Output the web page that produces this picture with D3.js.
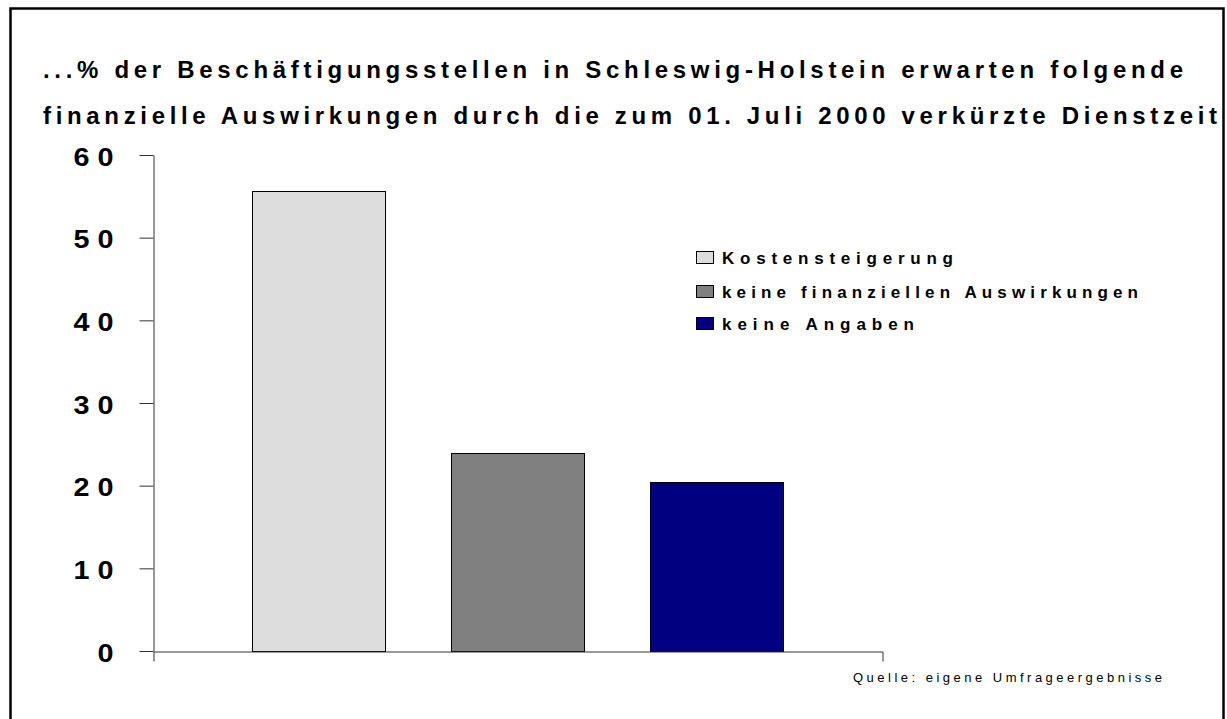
<!DOCTYPE html>
<html>
<head>
<meta charset="utf-8">
<script src="https://cdn.jsdelivr.net/npm/d3@7"></script>
<style>
  html, body { margin: 0; padding: 0; background: #fff; }
  svg { display: block; }
  text { font-family: "Liberation Sans", Arial, Helvetica, sans-serif; }
</style>
</head>
<body>
<svg id="chart" width="1227" height="719"></svg>
<script>
// ---- data ----
const titleLines = [
  "...% der Beschäftigungsstellen in Schleswig-Holstein erwarten folgende",
  "finanzielle Auswirkungen durch die zum 01. Juli 2000 verkürzte Dienstzeit"
];
const seriesNames = ["Kostensteigerung", "keine finanziellen Auswirkungen", "keine Angaben"];
const seriesValues = [55.6, 24.0, 20.5];
const seriesColors = ["#DDDDDD", "#808080", "#000080"];
const yTicks = [0, 10, 20, 30, 40, 50, 60];
const sourceNote = "Quelle: eigene Umfrageergebnisse";

// ---- layout ----
const svg = d3.select("#chart");

// outer frame
svg.append("rect")
  .attr("x", 10.5).attr("y", 8.5)
  .attr("width", 1213).attr("height", 730)
  .attr("fill", "none").attr("stroke", "#000").attr("stroke-width", 2.5);

// title
const titleWidths = [1140, 1174];
const titleBaselines = [78, 124];
titleLines.forEach((t, i) => {
  svg.append("text")
    .attr("x", 43).attr("y", titleBaselines[i])
    .attr("font-size", 24).attr("font-weight", "bold")
    .attr("fill", "#000")
    .attr("textLength", titleWidths[i])
    .attr("lengthAdjust", "spacing")
    .text(t);
});

// scales
const y = d3.scaleLinear().domain([0, 60]).range([651, 155]);
const x = d3.scaleBand().domain(seriesNames).range([153, 882])
  .paddingInner(1 / 3).paddingOuter(0.5);

// bars
svg.append("g").selectAll("rect")
  .data(seriesNames)
  .join("rect")
  .attr("x", d => Math.round(x(d)) + 0.5)
  .attr("y", (d, i) => Math.round(y(seriesValues[i])) + 0.5)
  .attr("width", Math.round(x.bandwidth()))
  .attr("height", (d, i) => Math.round(y(0)) - Math.round(y(seriesValues[i])))
  .attr("fill", (d, i) => seriesColors[i])
  .attr("stroke", "#000").attr("stroke-width", 1);

// y axis
const labelStretch = 1.15;
const yAxis = d3.axisLeft(y).tickValues(yTicks).tickSize(14).tickSizeOuter(0).tickPadding(26);
const gy = svg.append("g").attr("transform", "translate(153.5,0)").call(yAxis);
gy.selectAll("path, line").attr("stroke", "#333").attr("stroke-width", 1);
gy.selectAll("text")
  .attr("font-size", 25).attr("font-weight", "bold").attr("fill", "#000")
  .attr("font-family", "'Liberation Sans', Arial, sans-serif")
  .attr("x", -40 / labelStretch)
  .attr("transform", `scale(${labelStretch},1)`)
  .attr("dy", "0.4em")
  .each(function(d) {
    if (String(d).length > 1) {
      d3.select(this).attr("textLength", 40 / labelStretch).attr("lengthAdjust", "spacing");
    }
  });

// x axis (baseline with outer end ticks)
const xAxis = d3.axisBottom(x).tickSizeInner(0).tickSizeOuter(10).tickFormat("");
const gx = svg.append("g").attr("transform", "translate(0.5,651.5)").call(xAxis);
gx.selectAll("path, line").attr("stroke", "#333").attr("stroke-width", 1);
gx.selectAll(".tick").remove();

// legend
const legendRows = [257, 291, 323];
const legendWidths = [231, 416, 192];
const lg = svg.append("g");
seriesNames.forEach((name, i) => {
  lg.append("rect")
    .attr("x", 696.5).attr("y", legendRows[i] - 6 + 0.5)
    .attr("width", 17).attr("height", 12)
    .attr("fill", seriesColors[i]).attr("stroke", "#000").attr("stroke-width", 1);
  lg.append("text")
    .attr("x", 722).attr("y", legendRows[i] + 6.5)
    .attr("font-size", 17).attr("font-weight", "bold").attr("fill", "#000")
    .attr("textLength", legendWidths[i]).attr("lengthAdjust", "spacing")
    .text(name);
});

// source note
svg.append("text")
  .attr("x", 853).attr("y", 682)
  .attr("font-size", 13).attr("fill", "#000")
  .attr("textLength", 309).attr("lengthAdjust", "spacing")
  .text(sourceNote);
</script>
</body>
</html>
